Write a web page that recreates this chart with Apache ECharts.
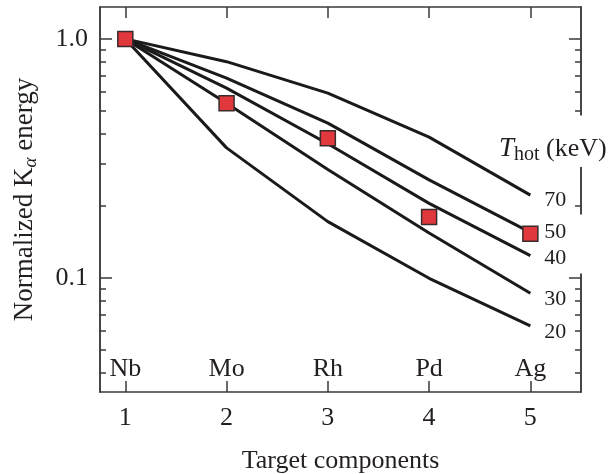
<!DOCTYPE html>
<html>
<head>
<meta charset="utf-8">
<script src="https://cdn.jsdelivr.net/npm/echarts@6/dist/echarts.min.js"></script>
<style>html,body{margin:0;padding:0;background:#fff;}#c{width:610px;height:474px;}</style>
</head>
<body>
<div id="c"></div>
<script>
// ---- data ----
const categories = ['Nb', 'Mo', 'Rh', 'Pd', 'Ag'];
const components = [1, 2, 3, 4, 5];
const t70 = [1.0, 0.803, 0.593, 0.388, 0.222];
const t50 = [1.0, 0.685, 0.444, 0.257, 0.155];
const t40 = [1.0, 0.622, 0.364, 0.205, 0.124];
const t30 = [1.0, 0.538, 0.284, 0.154, 0.0863];
const t20 = [1.0, 0.350, 0.172, 0.0996, 0.063];
const measured = [1.0, 0.538, 0.384, 0.180, 0.153];
const tempLabels = ['70', '50', '40', '30', '20'];
const yMajor = [0.1, 1.0];
const yMinor = [0.04, 0.05, 0.06, 0.07, 0.08, 0.09, 0.2, 0.3, 0.4, 0.5, 0.6, 0.7, 0.8, 0.9];

const FONT = 'Liberation Serif';
const INK = '#231f20';
const AX = '#3a3a3a';

function pairs(ys) { return components.map((x, i) => [x, ys[i]]); }

const yBase = {
  type: 'log', min: 0.0333, max: 1.36, logBase: 10,
  splitLine: { show: false }, minorTick: { show: false }
};
function yAx(pos, custom, len, showLabel) {
  return Object.assign({}, yBase, {
    position: pos,
    axisLine: { show: true, lineStyle: { color: AX, width: 1.5 } },
    axisTick: { show: true, inside: true, length: len, customValues: custom, lineStyle: { color: AX, width: 1.5 } },
    axisLabel: showLabel ? {
      show: true, customValues: custom, margin: 12,
      fontFamily: FONT, fontSize: 26, color: INK,
      formatter: v => (v >= 1 ? '1.0' : '0.1')
    } : { show: false }
  });
}

const labelOffsets = [5, 0, 3, 6, 6];
const labelPads = [0, [13, 20, 1, 0], [1, 20, 7, 0], 0, 0];
const lineSeries = [t70, t50, t40, t30, t20].map((d, i) => ({
  type: 'line', name: tempLabels[i], data: pairs(d),
  xAxisIndex: 0, yAxisIndex: 0,
  showSymbol: false, symbol: 'none', smooth: false,
  lineStyle: { color: '#1a1a1a', width: 3 },
  z: 2,
  endLabel: {
    show: true, formatter: tempLabels[i], distance: 14, offset: [0, labelOffsets[i]],
    fontFamily: FONT, fontSize: 22, color: INK,
    backgroundColor: (i === 1 || i === 2) ? '#fff' : 'transparent',
    padding: labelPads[i]
  }
}));

const option = {
  animation: false,
  backgroundColor: '#fff',
  title: {
    text: '{t|T}{h|hot}{k| (keV)}',
    left: 495, top: 113,
    backgroundColor: '#fff',
    padding: [20, 4, 2, 4],
    textStyle: {
      fontWeight: 'normal',
      rich: {
        t: { fontFamily: FONT, fontSize: 27, fontStyle: 'italic', fontWeight: 'normal', color: INK },
        h: { fontFamily: FONT, fontSize: 20, fontWeight: 'normal', color: INK, padding: [12, 0, 0, 0] },
        k: { fontFamily: FONT, fontSize: 26, fontWeight: 'normal', color: INK }
      }
    }
  },
  grid: { left: 100, top: 7, right: 29, bottom: 82, containLabel: false, outerBoundsMode: 'none' },
  xAxis: [
    {
      type: 'value', position: 'bottom', min: 0.75, max: 5.5,
      splitLine: { show: false },
      axisLine: { show: true, lineStyle: { color: AX, width: 1.5 } },
      axisTick: { show: true, inside: true, length: 11, customValues: components, lineStyle: { color: AX, width: 1.5 } },
      axisLabel: { show: true, customValues: components, margin: 13, fontFamily: FONT, fontSize: 26, color: INK },
      name: 'Target components', nameLocation: 'middle', nameGap: 56,
      nameTextStyle: { fontFamily: FONT, fontSize: 26, color: INK }
    },
    {
      type: 'value', position: 'bottom', min: 0.75, max: 5.5,
      splitLine: { show: false }, axisLine: { show: false }, axisTick: { show: false },
      axisLabel: {
        show: true, inside: true, customValues: components, margin: 10,
        fontFamily: FONT, fontSize: 26, color: INK,
        formatter: v => categories[components.indexOf(v)]
      }
    },
    {
      type: 'value', position: 'top', min: 0.75, max: 5.5,
      splitLine: { show: false },
      axisLine: { show: true, lineStyle: { color: AX, width: 1.5 } },
      axisTick: { show: true, inside: true, length: 11, customValues: components, lineStyle: { color: AX, width: 1.5 } },
      axisLabel: { show: false }
    }
  ],
  yAxis: [
    Object.assign(yAx('left', yMajor, 12, true), {
      name: '{a|Normalized K}{s|α}{a| energy}', nameLocation: 'middle', nameGap: 60, nameRotate: 90,
      nameTextStyle: {
        rich: {
          a: { fontFamily: FONT, fontSize: 27, color: INK },
          s: { fontFamily: FONT, fontSize: 19, fontStyle: 'italic', color: INK, padding: [12, 0, 0, 0] }
        }
      }
    }),
    yAx('left', yMinor, 6, false),
    yAx('right', yMajor, 12, false),
    yAx('right', yMinor, 6, false)
  ],
  series: lineSeries.concat([{
    type: 'scatter', data: pairs(measured), xAxisIndex: 0, yAxisIndex: 0,
    symbol: 'rect', symbolSize: 15,
    itemStyle: { color: '#e0383d', borderColor: '#3a2a2a', borderWidth: 1.5, opacity: 1 },
    z: 5
  }])
};

const chart = echarts.init(document.getElementById('c'), null, { renderer: 'canvas' });
chart.setOption(option);
</script>
</body>
</html>
